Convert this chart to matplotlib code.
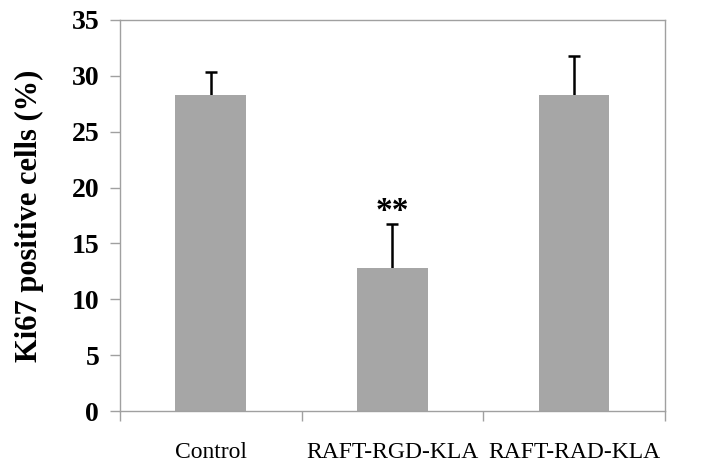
import matplotlib.pyplot as plt
import numpy as np

groups = ["Control", "RAFT-RGD-KLA", "RAFT-RAD-KLA"]
means = [28.3, 12.8, 28.3]
errors = [2.0, 3.9, 3.5]

plt.rcParams['font.family'] = ['Liberation Serif', 'DejaVu Serif']

fig = plt.figure(figsize=(7.02, 4.63), dpi=100)
ax = fig.add_axes([0.171, 0.112, 0.776, 0.845])

x = np.arange(len(groups))
# error bars behind the bars so only the upper half shows
ax.errorbar(x, means, yerr=errors, fmt='none',
            ecolor='black', elinewidth=1.8, capsize=4, capthick=1.8, zorder=1)
ax.bar(x, means, width=0.39, color='#a6a6a6', zorder=2)

ax.text(1, 17.9, "**", ha='center', va='center', fontsize=24, fontweight='bold')

ax.set_xlim(-0.5, 2.5)
ax.set_ylim(0, 35)
ax.set_yticks(range(0, 36, 5))
ax.set_yticklabels([str(v) for v in range(0, 36, 5)], fontsize=20, fontweight='bold')
ax.set_ylabel("Ki67 positive cells (%)", fontsize=22, fontweight='bold', labelpad=20)

ax.set_xticks(x)
ax.set_xticklabels(groups, fontsize=17)
ax.set_xticks([-0.5, 0.5, 1.5, 2.5], minor=True)
ax.tick_params(axis='x', which='major', length=0, pad=22)
ax.tick_params(axis='x', which='minor', length=7, color='#a0a0a0', width=1)
ax.tick_params(axis='y', length=7, color='#a0a0a0', width=1, pad=8)

for s in ax.spines.values():
    s.set_color('#a0a0a0')
    s.set_linewidth(1)

fig.savefig("out.png", dpi=100)
